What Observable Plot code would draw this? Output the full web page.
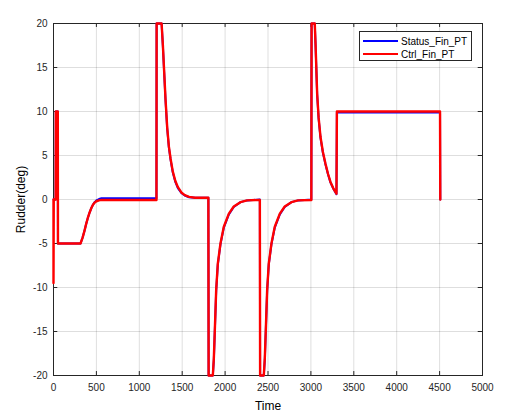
<!DOCTYPE html>
<html>
<head>
<meta charset="utf-8">
<script src="https://cdn.jsdelivr.net/npm/d3@7"></script>
<script src="https://cdn.jsdelivr.net/npm/@observablehq/plot@0.6"></script>
<style>
  html, body { margin: 0; padding: 0; background: #fff; }
  #wrap { position: relative; width: 518px; height: 414px; font-family: "Liberation Sans", Arial, sans-serif; }
  #legend { position: absolute; left: 359px; top: 31px; width: 113px; height: 30px; border: 1px solid #262626; background: #fff; box-sizing: border-box; font-size: 10px; color: #000; }
  #legend .row { position: absolute; left: 3px; height: 12px; display: flex; align-items: center; }
  #legend .sw { width: 35px; height: 2px; margin-right: 3px; }
</style>
</head>
<body>
<div id="wrap"></div>
<script>
// Time samples (shared by both series)
const time = [0, 0, 3, 25, 27, 50, 52, 315, 340, 360, 380, 400, 420, 440, 460, 480, 500, 530, 560,
  1200, 1202, 1260, 1275, 1290, 1305, 1325, 1345, 1365, 1390, 1420, 1450, 1490, 1530, 1580, 1650, 1805,
  1808, 1857, 1869, 1880, 1896, 1915, 1946, 1985, 2044, 2101, 2179, 2257, 2405,
  2408, 2451, 2463, 2474, 2490, 2509, 2540, 2579, 2638, 2695, 2773, 2851, 3005,
  3008, 3045, 3054, 3073, 3090, 3112, 3140, 3170, 3200, 3228, 3260, 3298, 3303, 4505, 4508];

// Ctrl_Fin_PT values
const ctrlFin = [0, -9.5, 0, 0, 10, 10, -5, -5, -4.3, -3.6, -2.8, -2.1, -1.5, -1.0, -0.6, -0.35, -0.2, -0.1, -0.05,
  -0.05, 20, 20, 17.5, 14.5, 11.5, 8.2, 6.0, 4.6, 3.2, 2.1, 1.4, 0.8, 0.5, 0.3, 0.2, 0.2,
  -20, -20, -18, -14.9, -10.3, -7.3, -5.0, -3.1, -1.6, -0.8, -0.3, -0.1, -0.05,
  -20, -20, -18, -14.9, -10.3, -7.3, -5.0, -3.1, -1.6, -0.8, -0.3, -0.1, -0.05,
  20, 20, 17.7, 12.0, 9.3, 7.1, 5.4, 4.05, 2.9, 2.0, 1.3, 0.65, 10, 10, 0];

// Status_Fin_PT values
const statusFin = [0, 0, 0, 0, 10, 10, -5, -5, -4.3, -3.6, -2.8, -2.1, -1.5, -1.0, -0.6, -0.3, -0.1, 0.05, 0.15,
  0.15, 20, 20, 17.4, 14.4, 11.4, 8.1, 5.9, 4.5, 3.1, 2.0, 1.3, 0.75, 0.45, 0.25, 0.2, 0.2,
  -20, -20, -18.2, -15.0, -10.4, -7.4, -5.1, -3.2, -1.7, -0.85, -0.3, -0.1, 0,
  -20, -20, -18.2, -15.0, -10.4, -7.4, -5.1, -3.2, -1.7, -0.85, -0.3, -0.1, 0,
  20, 20, 17.6, 11.9, 9.2, 7.0, 5.3, 4.0, 2.85, 1.95, 1.25, 0.6, 9.9, 9.9, 0];

const xTicks = [0, 500, 1000, 1500, 2000, 2500, 3000, 3500, 4000, 4500, 5000];
const yTicks = [-20, -15, -10, -5, 0, 5, 10, 15, 20];
const seriesNames = ["Status_Fin_PT", "Ctrl_Fin_PT"];
const seriesColors = ["#0000ff", "#ff0000"];

const statusData = time.map((t, i) => ({t, v: statusFin[i]}));
const ctrlData = time.map((t, i) => ({t, v: ctrlFin[i]}));

const axisColor = "#262626";
const fmt = d => String(d);

const chart = Plot.plot({
  width: 518,
  height: 414,
  marginLeft: 53,
  marginRight: 36,
  marginTop: 23,
  marginBottom: 39,
  style: {fontFamily: "'Liberation Sans', Arial, sans-serif", fontSize: "10px", color: axisColor, background: "#fff"},
  x: {domain: [0, 5000], ticks: xTicks, tickFormat: fmt},
  y: {domain: [-20, 20], ticks: yTicks, tickFormat: fmt},
  marks: [
    Plot.gridX(xTicks, {stroke: "#000", strokeOpacity: 0.13}),
    Plot.gridY(yTicks, {stroke: "#000", strokeOpacity: 0.13}),
    // inward ticks on all four sides
    Plot.ruleX(xTicks, {x: d => d, y1: -20, y2: -19.55, stroke: axisColor}),
    Plot.ruleX(xTicks, {x: d => d, y1: 20, y2: 19.55, stroke: axisColor}),
    Plot.ruleY(yTicks, {y: d => d, x1: 0, x2: 50, stroke: axisColor}),
    Plot.ruleY(yTicks, {y: d => d, x1: 5000, x2: 4950, stroke: axisColor}),
    Plot.frame({stroke: axisColor, strokeWidth: 1}),
    Plot.axisX(xTicks, {tickSize: 0, tickPadding: 8, fontSize: 10, fill: axisColor, tickFormat: fmt,
      label: "Time", labelAnchor: "center", labelArrow: "none", labelOffset: 34}),
    Plot.axisY(yTicks, {tickSize: 0, tickPadding: 6, fontSize: 10, fill: axisColor, tickFormat: fmt,
      label: "Rudder(deg)", labelAnchor: "center", labelArrow: "none", labelOffset: 37}),
    Plot.line(statusData, {x: "t", y: "v", stroke: seriesColors[0], strokeWidth: 2, curve: "linear"}),
    Plot.line(ctrlData, {x: "t", y: "v", stroke: seriesColors[1], strokeWidth: 2.4, curve: "linear"})
  ]
});

const wrap = document.getElementById("wrap");
wrap.appendChild(chart);
chart.querySelectorAll("g[aria-label='x-axis label'] text, g[aria-label='y-axis label'] text").forEach(t => {
  t.style.fontSize = "12px";
  t.setAttribute("fill", "#000");
});

const legend = document.createElement("div");
legend.id = "legend";
seriesNames.forEach((name, i) => {
  const row = document.createElement("div");
  row.className = "row";
  row.style.top = (3 + i * 13) + "px";
  const sw = document.createElement("div");
  sw.className = "sw";
  sw.style.background = seriesColors[i];
  const lab = document.createElement("span");
  lab.textContent = name;
  row.appendChild(sw);
  row.appendChild(lab);
  legend.appendChild(row);
});
wrap.appendChild(legend);
</script>
</body>
</html>
